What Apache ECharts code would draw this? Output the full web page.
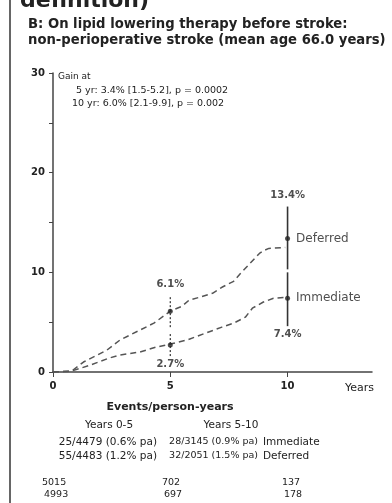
<!DOCTYPE html>
<html>
<head>
<meta charset="utf-8">
<script src="https://cdn.jsdelivr.net/npm/echarts@6/dist/echarts.min.js"></script>
<style>
  html, body { margin: 0; padding: 0; background: #fff; }
  #chart { width: 392px; height: 503px; }
</style>
</head>
<body>
<div id="chart"></div>
<script>
// cumulative risk (%)
const deferredYears = [0, 0.8, 1.3, 2.3, 2.85, 3.7, 4.3, 5.0, 5.5, 5.8, 6.25, 6.8, 7.2, 7.7, 8.0, 8.4, 8.8, 9.0, 9.2, 9.9];
const deferredRisk  = [0, 0.1, 1.0, 2.2, 3.2, 4.2, 4.9, 6.1, 6.6, 7.2, 7.5, 7.9, 8.5, 9.1, 9.9, 10.9, 11.9, 12.2, 12.4, 12.5];
const immediateYears = [0, 0.8, 1.6, 2.4, 2.85, 3.7, 4.4, 5.0, 5.7, 6.5, 7.2, 7.7, 8.2, 8.5, 8.95, 9.4, 9.9];
const immediateRisk  = [0, 0.1, 0.7, 1.4, 1.7, 2.0, 2.5, 2.8, 3.2, 3.9, 4.5, 4.9, 5.5, 6.4, 7.0, 7.4, 7.5];

// point estimates with confidence intervals at 5 and 10 years
const estYears = [5, 10];
const deferredEst = [6.1, 13.4];
const deferredLow = [4.5, 10.3];
const deferredHigh = [7.7, 16.6];
const immediateEst = [2.7, 7.4];
const immediateLow = [1.6, 4.6];
const immediateHigh = [4.0, 10.0];
const groupNames = ['Deferred', 'Immediate'];

const xTicks = [0, 5, 10];
const yTicks = [0, 10, 20, 30];

const titleLines = ['B: On lipid lowering therapy before stroke:', 'non-perioperative stroke (mean age 66.0 years)'];
const gainLines = ['Gain at', '5 yr: 3.4% [1.5-5.2], p = 0.0002', '10 yr: 6.0% [2.1-9.9], p = 0.002'];
const eventsTitle = 'Events/person-years';
const periodLabels = ['Years 0-5', 'Years 5-10'];
const immediateEvents = ['25/4479 (0.6% pa)', '28/3145 (0.9% pa)'];
const deferredEvents = ['55/4483 (1.2% pa)', '32/2051 (1.5% pa)'];
const atRiskImmediate = ['5015', '702', '137'];
const atRiskDeferred = ['4993', '697', '178'];

const font = '"DejaVu Sans", "Liberation Sans", sans-serif';
const ink = '#222';

const chart = echarts.init(document.getElementById('chart'));

const zip = (a, b) => a.map((v, i) => [v, b[i]]);

const ciData = estYears.flatMap((yr, i) => [
  [yr, deferredLow[i], deferredHigh[i]],
  [yr, immediateLow[i], immediateHigh[i]]
]);

function txt(text, x, y, size, align, weight) {
  return {
    type: 'text', x: x, y: y,
    style: { text: text, font: (weight || 'normal') + ' ' + size + 'px ' + font, fill: ink, textAlign: align || 'left', textVerticalAlign: 'middle' }
  };
}

const graphics = [
  { type: 'line', shape: { x1: 10, y1: 0, x2: 10, y2: 503 }, style: { stroke: '#333', lineWidth: 1.5 } },
  txt('definition)', 20, 1, 22, 'left', 'bold'),
  txt(titleLines[0], 28, 25, 13.2, 'left', 'bold'),
  txt(titleLines[1], 28, 41, 13.2, 'left', 'bold'),
  txt(gainLines[0], 58, 77, 9),
  txt(gainLines[1], 76, 91, 9.5),
  txt(gainLines[2], 72, 104, 9.5),
  txt('Years', 374, 388, 11, 'right'),
  txt(eventsTitle, 170, 407, 11, 'center', 'bold'),
  txt(periodLabels[0], 109, 425, 10.5, 'center'),
  txt(periodLabels[1], 231, 425, 10.5, 'center'),
  txt(immediateEvents[0], 157, 442, 10.5, 'right'),
  txt(immediateEvents[1], 258, 442, 9.5, 'right'),
  txt(groupNames[1], 263, 442, 10.5, 'left'),
  txt(deferredEvents[0], 157, 456, 10.5, 'right'),
  txt(deferredEvents[1], 258, 456, 9.5, 'right'),
  txt(groupNames[0], 263, 456, 10.5, 'left')
];
xTicks.forEach((t, i) => {
  graphics.push(txt(atRiskImmediate[i], 42 + i * 120, 483, 9.5, 'left'));
  graphics.push(txt(atRiskDeferred[i], 44 + i * 120, 495, 9.5, 'left'));
});

const option = {
  animation: false,
  grid: { left: 53, right: 20, top: 73, bottom: 131 },
  xAxis: {
    type: 'value', min: 0, max: 13.6, interval: 5,
    axisLine: { lineStyle: { color: '#444', width: 1.5 } },
    axisTick: { show: true, length: 5, lineStyle: { color: '#444' } },
    axisLabel: {
      color: ink, fontSize: 10, fontFamily: font, fontWeight: 'bold', margin: 9,
      showMaxLabel: false,
      formatter: v => xTicks.includes(v) ? String(v) : ''
    },
    splitLine: { show: false }
  },
  yAxis: {
    type: 'value', min: 0, max: 30, interval: 5,
    axisLine: { show: true, lineStyle: { color: '#444', width: 1.5 } },
    axisTick: { show: true, length: 4, lineStyle: { color: '#444' } },
    axisLabel: {
      color: ink, fontSize: 10, fontFamily: font, fontWeight: 'bold', margin: 8,
      formatter: v => yTicks.includes(v) ? String(v) : ''
    },
    splitLine: { show: false }
  },
  graphic: graphics,
  series: [
    {
      name: groupNames[0], type: 'line', data: zip(deferredYears, deferredRisk),
      symbol: 'none', lineStyle: { color: '#555', width: 1.5, type: [6, 4] }
    },
    {
      name: groupNames[1], type: 'line', data: zip(immediateYears, immediateRisk),
      symbol: 'none', lineStyle: { color: '#555', width: 1.5, type: [6, 4] }
    },
    {
      type: 'custom', data: ciData, z: 3,
      renderItem: (params, api) => {
        const lo = api.coord([api.value(0), api.value(1)]);
        const hi = api.coord([api.value(0), api.value(2)]);
        const early = api.value(0) < 10;
        return {
          type: 'line',
          shape: { x1: lo[0], y1: lo[1], x2: hi[0], y2: hi[1] },
          style: { stroke: '#333', lineWidth: early ? 1.2 : 1.6, lineDash: early ? [2, 2] : null }
        };
      }
    },
    {
      type: 'scatter', z: 4, symbolSize: 5, itemStyle: { color: ink },
      data: zip(estYears, deferredEst),
      label: {
        show: true, position: 'right', distance: 6, fontSize: 12, fontFamily: font, color: ink,
        formatter: p => p.value[0] === 10 ? groupNames[0] : ''
      }
    },
    {
      type: 'scatter', z: 4, symbolSize: 5, itemStyle: { color: ink },
      data: zip(estYears, immediateEst),
      label: {
        show: true, position: 'right', distance: 6, fontSize: 12, fontFamily: font, color: ink,
        formatter: p => p.value[0] === 10 ? groupNames[1] : ''
      }
    },
    {
      type: 'scatter', symbolSize: 0, silent: true,
      data: zip(estYears, deferredHigh),
      label: {
        show: true, position: 'top', distance: 6, fontSize: 10, fontWeight: 'bold', fontFamily: font, color: ink,
        formatter: p => deferredEst[p.dataIndex].toFixed(1) + '%'
      }
    },
    {
      type: 'scatter', symbolSize: 0, silent: true,
      data: zip(estYears, immediateLow),
      label: {
        show: true, position: 'bottom', distance: 3, fontSize: 10, fontWeight: 'bold', fontFamily: font, color: ink,
        formatter: p => immediateEst[p.dataIndex].toFixed(1) + '%'
      }
    }
  ]
};

chart.setOption(option);
</script>
</body>
</html>
